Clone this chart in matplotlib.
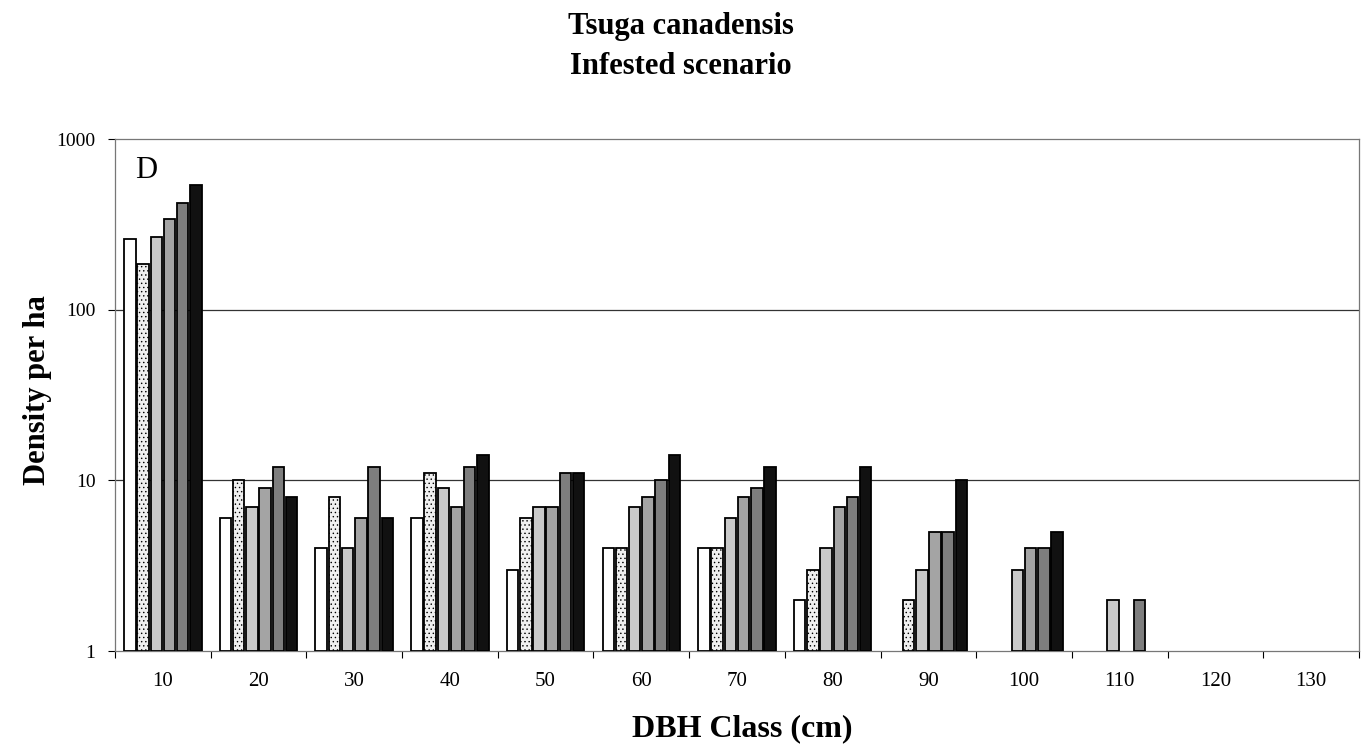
import numpy as np
import matplotlib
matplotlib.use("Agg")
import matplotlib.pyplot as plt

# DBH classes (cm) and the six series (density per ha), nan = no bar
dbh_classes = ["10", "20", "30", "40", "50", "60", "70", "80", "90", "100", "110", "120", "130"]
s1 = [260, 6, 4, 6, 3, 4, 4, 2, np.nan, np.nan, np.nan, np.nan, np.nan]
s2 = [185, 10, 8, 11, 6, 4, 4, 3, 2, np.nan, np.nan, np.nan, np.nan]
s3 = [265, 7, 4, 9, 7, 7, 6, 4, 3, 3, 2, np.nan, np.nan]
s4 = [340, 9, 6, 7, 7, 8, 8, 7, 5, 4, np.nan, np.nan, np.nan]
s5 = [420, 12, 12, 12, 11, 10, 9, 8, 5, 4, 2, np.nan, np.nan]
s6 = [540, 8, 6, 14, 11, 14, 12, 12, 10, 5, np.nan, np.nan, np.nan]
series = [s1, s2, s3, s4, s5, s6]

colors = ["#ffffff", "#f0f0f0", "#c9c9c9", "#a4a4a4", "#7e7e7e", "#111111"]
hatches = [None, "....", None, None, None, None]

plt.rcParams["font.family"] = ["Liberation Serif", "DejaVu Serif"]
plt.rcParams["hatch.color"] = "#aaaaaa"
plt.rcParams["hatch.linewidth"] = 0.5

W, H = 1362, 747
fig = plt.figure(figsize=(W / 100, H / 100), dpi=100)
# axes box in pixels: left 115, right 1359, top 139, bottom 651
ax = fig.add_axes([115 / W, 1 - 651 / H, (1359 - 115) / W, (651 - 139) / H])

x = np.arange(len(dbh_classes))
pitch = 0.138
width = 0.12
for i, vals in enumerate(series):
    v = np.array(vals, dtype=float)
    ok = ~np.isnan(v)
    xs = x[ok] + (i - 2.5) * pitch
    ax.bar(xs, v[ok] - 1, bottom=1, width=width, color=colors[i],
           edgecolor="black", linewidth=1.3, hatch=hatches[i], zorder=3)

ax.set_yscale("log")
ax.set_ylim(1, 1000)
ax.set_xlim(-0.5, len(dbh_classes) - 0.5)
ax.set_yticks([1, 10, 100, 1000])
ax.set_yticklabels(["1", "10", "100", "1000"])
ax.yaxis.set_minor_locator(matplotlib.ticker.NullLocator())
ax.set_xticks(x)
ax.set_xticklabels(dbh_classes)
ax.set_xticks(np.arange(len(dbh_classes) + 1) - 0.5, minor=True)
ax.tick_params(axis="x", which="major", length=0, labelsize=15, pad=15)
ax.tick_params(axis="x", which="minor", length=5, width=0.8, direction="out")
ax.tick_params(axis="y", labelsize=14, length=5, width=0.8, direction="out", pad=9)

for yv in [10, 100]:
    ax.axhline(yv, color="#333333", linewidth=0.9, zorder=1)
for sp in ax.spines.values():
    sp.set_color("#777777")
    sp.set_linewidth(0.9)

ax.text(135 / W, 1 - 170 / H, "D", transform=fig.transFigure, fontsize=22, va="center", ha="left")

fig.text(0.5, 1 - 34 / H, "Tsuga canadensis", ha="center", va="baseline", fontsize=22, fontweight="bold")
fig.text(0.5, 1 - 74 / H, "Infested scenario", ha="center", va="baseline", fontsize=22, fontweight="bold")
fig.text(742 / W, 1 - 736 / H, "DBH Class (cm)", ha="center", va="baseline", fontsize=23, fontweight="bold")
fig.text(38 / W, 1 - 390 / H, "Density per ha", ha="center", va="center", rotation=90, fontsize=22, fontweight="bold")

fig.savefig("out.png", dpi=100)
